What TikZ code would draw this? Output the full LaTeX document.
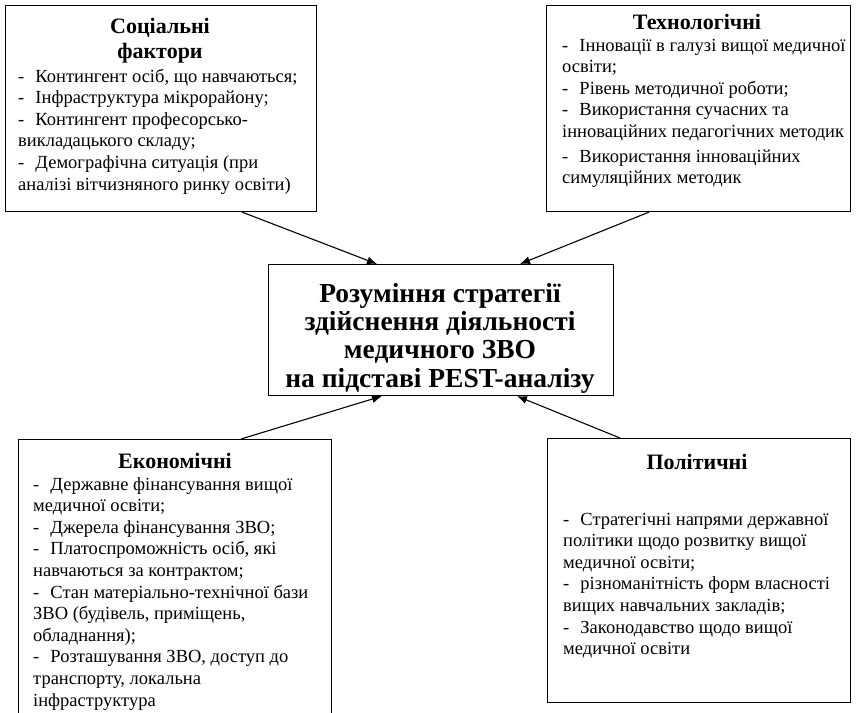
\documentclass[tikz,border=0pt]{standalone}
\usepackage{fontspec}
\setmainfont{Liberation Serif}
\usetikzlibrary{arrows.meta,calc}
\newcommand{\bl}{-\hspace{0.6em}}
\begin{document}
\begin{tikzpicture}[x=1pt,y=-1pt,
  box/.style={draw,line width=1.1pt,rectangle,inner sep=0pt,anchor=north west},
  ttl/.style={font=\fontsize{22}{25.8}\selectfont\bfseries,inner sep=0pt,anchor=base},
  body/.style={font=\fontsize{18.5}{21.6}\selectfont,inner sep=0pt,anchor=base west},
  arr/.style={line width=1.1pt,-{Latex[length=10pt,width=8pt]}}]
\clip (0,0) rectangle (856,712);
\useasboundingbox (0,0) rectangle (856,712);
% boxes
\node[box,minimum width=311pt,minimum height=206pt] (soc) at (5,5) {};
\node[box,minimum width=304pt,minimum height=206pt] (tech) at (546,5) {};
\node[box,minimum width=345pt,minimum height=131pt] (ctr) at (268,264) {};
\node[box,minimum width=313pt,minimum height=290pt] (eco) at (18,439) {};
\node[box,minimum width=303pt,minimum height=264pt] (pol) at (547,438) {};
% center text
\node[font=\fontsize{27.5}{28.4}\selectfont\bfseries,inner sep=0pt,anchor=base] (ctrt) at (440,302)
 {\begin{tabular}[t]{@{}c@{}}Розуміння стратегії\\здійснення діяльності\\медичного ЗВО\\на підставі PEST-аналізу\end{tabular}};
% social
\node[ttl] (soct) at (160,33) {\begin{tabular}[t]{@{}c@{}}Соціальні\\фактори\end{tabular}};
\node[body] (socb) at (18,82) {\begin{tabular}[t]{@{}l@{}}\bl Контингент осіб, що навчаються;\\
\bl Інфраструктура мікрорайону;\\
\bl Контингент професорсько-\\
викладацького складу;\\
\bl Демографічна ситуація (при\\
аналізі вітчизняного ринку освіти)\end{tabular}};
% tech
\node[ttl] (techt) at (697,29) {Технологічні};
\node[body] (techb) at (562,51) {\begin{tabular}[t]{@{}l@{}}\bl Інновації в галузі вищої медичної\\
освіти;\\
\bl Рівень методичної роботи;\\
\bl Використання сучасних та\\
інноваційних педагогічних методик\\[3pt]
\bl Використання інноваційних\\
симуляційних методик\end{tabular}};
% econ
\node[ttl] (ecot) at (175,468) {Економічні};
\node[body] (ecob) at (33,490) {\begin{tabular}[t]{@{}l@{}}\bl Державне фінансування вищої\\
медичної освіти;\\
\bl Джерела фінансування ЗВО;\\
\bl Платоспроможність осіб, які\\
навчаються за контрактом;\\
\bl Стан матеріально-технічної бази\\
ЗВО (будівель, приміщень,\\
обладнання);\\
\bl Розташування ЗВО, доступ до\\
транспорту, локальна\\
інфраструктура\end{tabular}};
% politics
\node[ttl] (polt) at (697,469) {Політичні};
\node[body] (polb) at (563,525) {\begin{tabular}[t]{@{}l@{}}\bl Стратегічні напрями державної\\
політики щодо розвитку вищої\\
медичної освіти;\\
\bl різноманітність форм власності\\
вищих навчальних закладів;\\
\bl Законодавство щодо вищої\\
медичної освіти\end{tabular}};
% connectors
\draw[arr] ($(soc.south west)+(237,0)$) -- ($(ctr.north west)+(109,0)$);
\draw[arr] ($(tech.south west)+(103,0)$) -- ($(ctr.north west)+(252,0)$);
\draw[arr] ($(eco.north west)+(223,0)$) -- ($(ctr.south west)+(114,0)$);
\draw[arr] ($(pol.north west)+(73,0)$) -- ($(ctr.south west)+(249,0)$);
\end{tikzpicture}
\end{document}
